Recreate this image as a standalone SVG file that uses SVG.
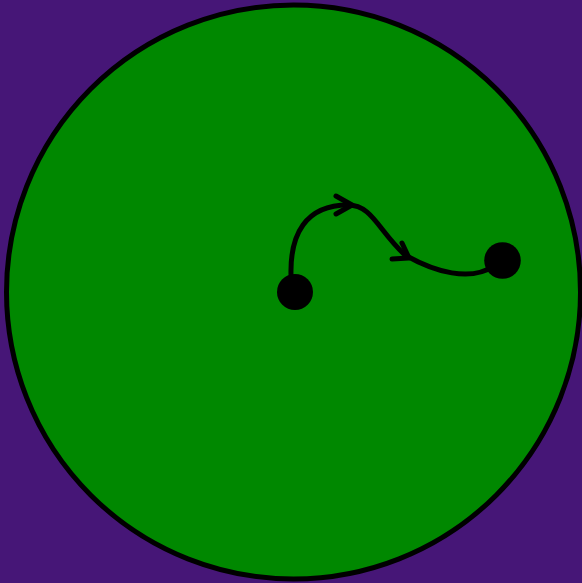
<svg xmlns="http://www.w3.org/2000/svg" width="582" height="583" viewBox="0 0 582 583">
<style>
.edge{fill:none;stroke:#000;stroke-width:5;stroke-linecap:round;stroke-linejoin:round}
.dot{fill:#000}
</style>
<rect width="582" height="583" fill="#461677"/>
<g id="disk"><circle cx="293.5" cy="292" r="287" fill="#008800" stroke="#000" stroke-width="5"/></g>
<g id="connectors">
<path class="edge" d="M291,275 C290,235 305,205 348,205 C372,205 378,230 405,255 C435,272 470,282 494,266"/>
<path class="edge" d="M336,196 L352,205 L336,214"/>
<path class="edge" d="M402,243 L409,258 L392,259"/>
</g>
<g id="node1"><circle class="dot" cx="295" cy="292" r="18"/></g>
<g id="node2"><circle class="dot" cx="502.5" cy="260.5" r="18.3"/></g>
</svg>
